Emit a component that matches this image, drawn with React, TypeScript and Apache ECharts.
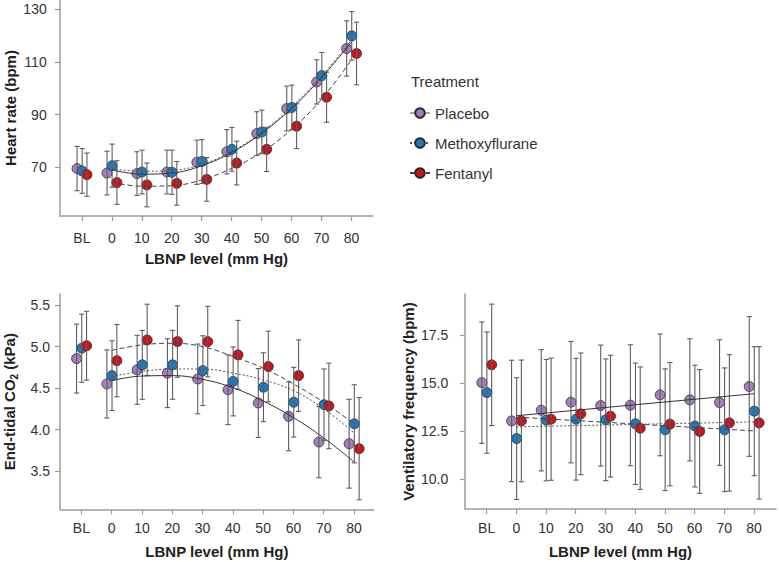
import React, { useEffect, useRef } from 'react';
import * as echarts from 'echarts';

// ---------- data ----------
const levels = [-10, 0, 10, 20, 30, 40, 50, 60, 70, 80];
const levelLabels = ['BL', '0', '10', '20', '30', '40', '50', '60', '70', '80'];
const fitLevels = [0, 10, 20, 30, 40, 50, 60, 70, 80];
const lineLevels = [0, 80];
const treatments = ['Placebo', 'Methoxyflurane', 'Fentanyl'];

// Heart rate (bpm)
const hrPlaceboMean = [69.5, 67.8, 67.6, 68.2, 71.9, 75.9, 82.8, 92.3, 102.4, 115.1];
const hrPlaceboSd = [8.4, 8.3, 8.3, 8.3, 8.4, 8.4, 8.3, 8.5, 8.4, 10.5];
const hrMethoxyMean = [68.6, 70.6, 68.2, 68.1, 72.2, 76.8, 83.4, 92.7, 104.8, 119.9];
const hrMethoxySd = [8.5, 8.2, 8.3, 8.4, 8.3, 8.3, 8.3, 8.5, 8.8, 9.2];
const hrFentanylMean = [67.2, 64.2, 63.3, 63.9, 65.4, 71.6, 76.8, 85.6, 96.6, 113.2];
const hrFentanylSd = [8.2, 8.3, 8.3, 8.3, 8.3, 8.3, 8.4, 8.5, 9.5, 11.9];
const hrPlaceboFit = [69.0, 67.4, 67.8, 70.6, 75.6, 82.9, 92.3, 104.0, 117.5];
const hrMethoxyFit = [69.4, 68.5, 68.8, 71.1, 76.0, 83.3, 93.0, 104.6, 118.3];
const hrFentanylFit = [64.3, 62.8, 63.0, 65.2, 69.6, 75.7, 84.4, 95.8, 110.8];
const hrTicks = [70, 90, 110, 130];

// End-tidal CO2 (kPa)
const co2PlaceboMean = [4.855, 4.55, 4.72, 4.68, 4.61, 4.48, 4.32, 4.16, 3.85, 3.83];
const co2PlaceboSd = [0.415, 0.41, 0.415, 0.415, 0.42, 0.42, 0.415, 0.415, 0.43, 0.535];
const co2MethoxyMean = [4.98, 4.65, 4.78, 4.78, 4.71, 4.58, 4.51, 4.33, 4.3, 4.07];
const co2MethoxySd = [0.41, 0.42, 0.415, 0.415, 0.42, 0.415, 0.415, 0.42, 0.43, 0.47];
const co2FentanylMean = [5.01, 4.83, 5.08, 5.06, 5.06, 4.9, 4.76, 4.65, 4.285, 3.77];
const co2FentanylSd = [0.415, 0.435, 0.43, 0.43, 0.425, 0.415, 0.425, 0.43, 0.515, 0.615];
const co2PlaceboFit = [4.59, 4.645, 4.65, 4.605, 4.505, 4.345, 4.145, 3.9, 3.61];
const co2MethoxyFit = [4.64, 4.7, 4.73, 4.73, 4.68, 4.6, 4.47, 4.25, 3.96];
const co2FentanylFit = [4.955, 5.02, 5.04, 5.0, 4.88, 4.74, 4.55, 4.33, 4.07];
const co2Ticks = [3.5, 4.0, 4.5, 5.0, 5.5];

// Ventilatory frequency (bpm)
const vfPlaceboMean = [15.03, 13.03, 13.59, 14.01, 13.83, 13.85, 14.39, 14.13, 13.99, 14.83];
const vfPlaceboSd = [3.17, 3.17, 3.17, 3.17, 3.16, 3.16, 3.18, 3.19, 3.28, 3.65];
const vfMethoxyMean = [14.51, 12.11, 13.07, 13.12, 13.09, 12.88, 12.57, 12.76, 12.57, 13.54];
const vfMethoxySd = [3.17, 3.18, 3.17, 3.18, 3.18, 3.17, 3.18, 3.18, 3.23, 3.37];
const vfFentanylMean = [15.96, 13.03, 13.12, 13.4, 13.28, 12.65, 12.86, 12.48, 12.93, 12.93];
const vfFentanylSd = [3.17, 3.18, 3.19, 3.18, 3.18, 3.2, 3.22, 3.23, 3.56, 3.98];
const vfPlaceboFit = [13.3, 14.45];
const vfMethoxyFit = [12.72, 12.98];
const vfFentanylFit = [13.23, 12.51];
const vfTicks = [10, 12.5, 15, 17.5];

// ---------- styles ----------
const FONT = '"Liberation Sans", Arial, Helvetica, sans-serif';
const AXIS_GREY = '#9c9c9c';
const TEXT = '#333333';
const BAR = '#5e5e5e';
const FILLS = ['#A67DBF', '#1B7CC6', '#CF1219'];
const DODGE = [-1.6, 0.1, 1.7];
const LINE_STYLES: any[] = [
  { color: '#333333', width: 1, type: 'solid' },
  { color: '#555555', width: 1, type: [2, 2] },
  { color: '#444444', width: 1, type: [5, 3] },
];

const labelFor = (v: number) => {
  const i = levels.indexOf(Math.round(v));
  return i >= 0 ? levelLabels[i] : '';
};

function xAxisCfg(gridIndex: number, min: number, max: number, labelMargin: number, nameGap: number) {
  return {
    type: 'value',
    gridIndex,
    min,
    max,
    name: 'LBNP level (mm Hg)',
    nameLocation: 'middle',
    nameGap,
    nameTextStyle: { fontSize: 15, fontWeight: 'bold', color: '#222', fontFamily: FONT },
    axisLine: { show: true, onZero: false, lineStyle: { color: AXIS_GREY, width: 1.5 } },
    axisTick: { show: true, length: 5, customValues: levels, lineStyle: { color: AXIS_GREY, width: 1.2 } },
    axisLabel: {
      customValues: levels,
      margin: labelMargin,
      fontSize: 14,
      color: TEXT,
      fontFamily: FONT,
      formatter: (v: number) => labelFor(v),
    },
    splitLine: { show: false },
  };
}

function yAxisCfg(
  gridIndex: number,
  min: number,
  max: number,
  ticks: number[],
  name: string,
  nameGap: number,
  labelMargin: number,
  decimals: number,
  rich?: any
) {
  return {
    type: 'value',
    gridIndex,
    min,
    max,
    name,
    nameLocation: 'middle',
    nameGap,
    nameTextStyle: { fontSize: 15, fontWeight: 'bold', color: '#222', fontFamily: FONT, rich },
    axisLine: { show: true, onZero: false, lineStyle: { color: AXIS_GREY, width: 1.5 } },
    axisTick: { show: true, length: 5, customValues: ticks, lineStyle: { color: AXIS_GREY, width: 1.2 } },
    axisLabel: {
      customValues: ticks,
      margin: labelMargin,
      fontSize: 14,
      color: TEXT,
      fontFamily: FONT,
      formatter: (v: number) => v.toFixed(decimals),
    },
    splitLine: { show: false },
  };
}

function errorBarSeries(g: number, t: number, mean: number[], sd: number[]) {
  return {
    type: 'custom',
    name: treatments[t] + ' SD',
    xAxisIndex: g,
    yAxisIndex: g,
    silent: true,
    z: 3,
    encode: { x: 0, y: [1, 2] },
    data: levels.map((x, i) => [x + DODGE[t], mean[i] - sd[i], mean[i] + sd[i]]),
    renderItem: (params: any, api: any) => {
      const x = api.value(0);
      const lo = api.value(1);
      const hi = api.value(2);
      const top = api.coord([x, hi]);
      const bot = api.coord([x, lo]);
      const st = { stroke: BAR, lineWidth: 1.1 };
      const c = 2.6;
      return {
        type: 'group',
        children: [
          { type: 'line', shape: { x1: top[0], y1: top[1], x2: bot[0], y2: bot[1] }, style: st },
          { type: 'line', shape: { x1: top[0] - c, y1: top[1], x2: top[0] + c, y2: top[1] }, style: st },
          { type: 'line', shape: { x1: bot[0] - c, y1: bot[1], x2: bot[0] + c, y2: bot[1] }, style: st },
        ],
      };
    },
  };
}

function pointSeries(g: number, t: number, mean: number[]) {
  return {
    type: 'scatter',
    name: treatments[t] + ' mean',
    xAxisIndex: g,
    yAxisIndex: g,
    silent: true,
    z: 2,
    symbol: 'circle',
    symbolSize: 10,
    itemStyle: { color: FILLS[t], borderColor: '#2a2a2a', borderWidth: 0.8, opacity: 1 },
    data: levels.map((x, i) => [x + DODGE[t], mean[i]]),
  };
}

function fitSeries(g: number, t: number, xs: number[], fit: number[], smooth: boolean) {
  return {
    type: 'line',
    name: treatments[t],
    xAxisIndex: g,
    yAxisIndex: g,
    silent: true,
    z: 4,
    smooth: smooth ? 0.4 : false,
    symbol: 'circle',
    showSymbol: false,
    lineStyle: LINE_STYLES[t],
    itemStyle: { color: FILLS[t], borderColor: '#2a2a2a', borderWidth: 0.8 },
    data: xs.map((x, i) => [x, fit[i]]),
  };
}

export default function App() {
  const ref = useRef<HTMLDivElement>(null);

  useEffect(() => {
    if (!ref.current) return;
    const chart = echarts.init(ref.current, null, { renderer: 'svg' });

    const hr = [
      [hrPlaceboMean, hrPlaceboSd, hrPlaceboFit],
      [hrMethoxyMean, hrMethoxySd, hrMethoxyFit],
      [hrFentanylMean, hrFentanylSd, hrFentanylFit],
    ];
    const co2 = [
      [co2PlaceboMean, co2PlaceboSd, co2PlaceboFit],
      [co2MethoxyMean, co2MethoxySd, co2MethoxyFit],
      [co2FentanylMean, co2FentanylSd, co2FentanylFit],
    ];
    const vf = [
      [vfPlaceboMean, vfPlaceboSd, vfPlaceboFit],
      [vfMethoxyMean, vfMethoxySd, vfMethoxyFit],
      [vfFentanylMean, vfFentanylSd, vfFentanylFit],
    ];

    const series: any[] = [];
    // fit lines first (legend takes its icon from the first series of a name)
    [0, 1, 2].forEach((t) => series.push(fitSeries(0, t, fitLevels, hr[t][2], true)));
    [0, 1, 2].forEach((t) => series.push(fitSeries(1, t, fitLevels, co2[t][2], true)));
    [0, 1, 2].forEach((t) => series.push(fitSeries(2, t, lineLevels, vf[t][2], false)));
    const panels = [hr, co2, vf];
    panels.forEach((p, g) => {
      [0, 1, 2].forEach((t) => {
        series.push(pointSeries(g, t, p[t][0]));
        series.push(errorBarSeries(g, t, p[t][0], p[t][1]));
      });
    });

    const co2Rich = {
      b: { fontSize: 15, fontWeight: 'bold', color: '#222', fontFamily: FONT, lineHeight: 20 },
      s: { fontSize: 10, fontWeight: 'bold', color: '#222', fontFamily: FONT, lineHeight: 10, verticalAlign: 'bottom' },
    };

    chart.setOption({
      animation: false,
      backgroundColor: '#ffffff',
      textStyle: { fontFamily: FONT },
      title: {
        text: 'Treatment',
        left: 411,
        top: 74,
        padding: 0,
        textStyle: { fontSize: 15, fontWeight: 'normal', color: TEXT, fontFamily: FONT },
      },
      legend: {
        data: [
          { name: 'Placebo', lineStyle: { color: '#888888', width: 1.5 } },
          { name: 'Methoxyflurane' },
          { name: 'Fentanyl' },
        ],
        orient: 'vertical',
        left: 409,
        top: 105.5,
        padding: 0,
        itemWidth: 20,
        itemHeight: 12,
        itemGap: 15,
        selectedMode: false,
        textStyle: { fontSize: 15, color: TEXT, fontFamily: FONT },
      },
      grid: [
        { left: 60, top: 0, width: 313, height: 216 },
        { left: 60, top: 294, width: 313.7, height: 215.3 },
        { left: 465, top: 294, width: 311, height: 215 },
      ],
      xAxis: [
        xAxisCfg(0, -17.3, 87.2, 15.3, 34.5),
        xAxisCfg(1, -17.07, 86.5, 12, 35),
        xAxisCfg(2, -17.27, 87.4, 12, 35),
      ],
      yAxis: [
        yAxisCfg(0, 51.5, 133.5, hrTicks, 'Heart rate (bpm)', 42.5, 13.3, 0),
        yAxisCfg(1, 3.04, 5.633, co2Ticks, '{b|End-tidal CO}{s|2}{b| (kPa)}', 41, 10, 1, co2Rich),
        yAxisCfg(2, 8.43, 19.66, vfTicks, 'Ventilatory frequency (bpm)', 49, 16.7, 1),
      ],
      series,
    });

    return () => chart.dispose();
  }, []);

  return (
    <div
      ref={ref}
      style={{ position: 'fixed', left: 0, top: 0, width: 779, height: 562, background: '#fff' }}
    />
  );
}
